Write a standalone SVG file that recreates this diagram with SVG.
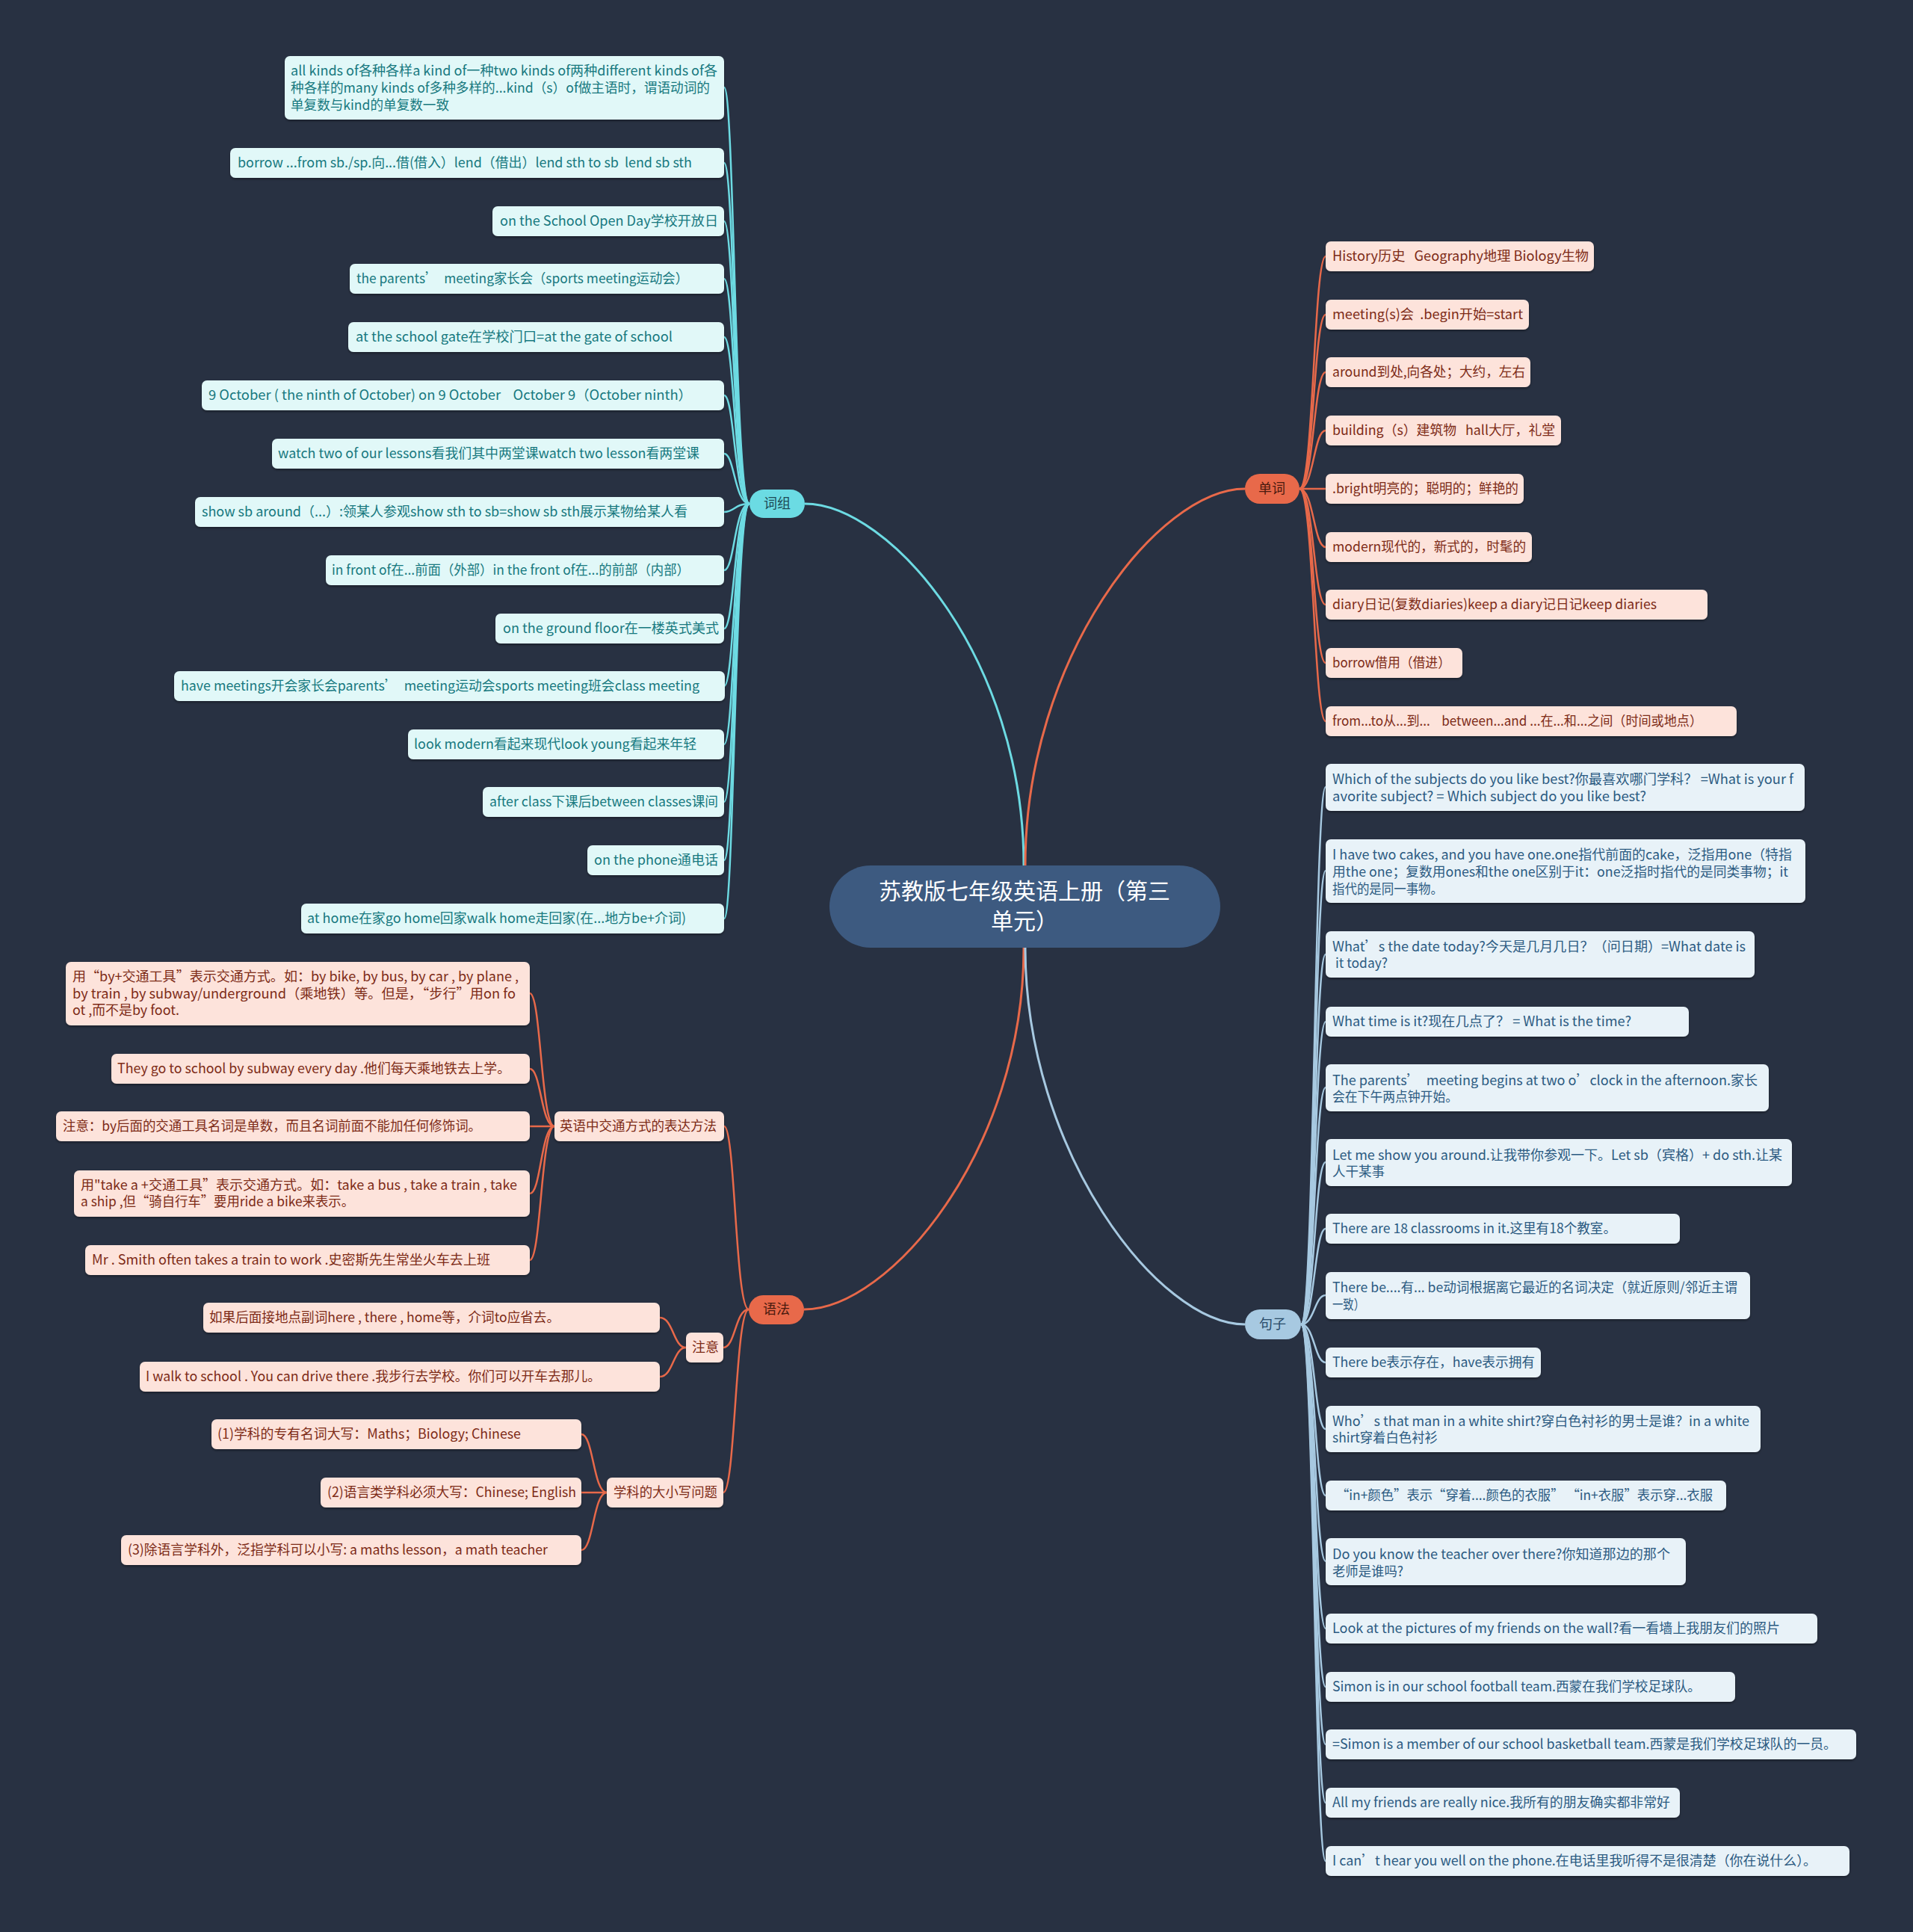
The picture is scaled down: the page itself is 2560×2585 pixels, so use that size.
<svg xmlns="http://www.w3.org/2000/svg" width="2560" height="2585" viewBox="0 0 2560 2585">
<defs>
<filter id="sh" x="-5%" y="-20%" width="110%" height="150%"><feDropShadow dx="0" dy="2" stdDeviation="1.5" flood-color="#000" flood-opacity="0.35"/></filter>
<style>
text{font-family:"Noto Sans CJK SC","Microsoft YaHei","Liberation Sans",sans-serif;font-size:18px;white-space:pre;}
.c rect{fill:#e1f8f8;filter:url(#sh);}
.c text{fill:#17797f;}
.o rect{fill:#fde3db;filter:url(#sh);}
.o text{fill:#7d2b17;}
.b rect{fill:#e8f2f8;filter:url(#sh);}
.b text{fill:#2c5b82;}
.lc{fill:none;stroke:#6ddbe3;stroke-width:2.5;}
.lo{fill:none;stroke:#e8694a;stroke-width:2.5;}
.lb{fill:none;stroke:#a7c9e1;stroke-width:2.5;}
.m{stroke-width:3;}
</style>
</defs>
<rect width="2560" height="2585" fill="#283142"/>
<g id="connectors">
<path class="lc m" d="M1370 1158 C1370 880 1190 674 1077 674"/>
<path class="lo m" d="M1372 1158 C1372 880 1550 654 1666 654"/>
<path class="lo m" d="M1370 1268 C1370 1540 1190 1752 1076 1752"/>
<path class="lb m" d="M1372 1268 C1372 1540 1550 1772 1666 1772"/>
<path class="lc" d="M1003 674 C983 674 983 117 969 117"/>
<path class="lc" d="M1003 674 C983 674 983 218 969 218"/>
<path class="lc" d="M1003 674 C983 674 983 296 969 296"/>
<path class="lc" d="M1003 674 C983 674 983 373 969 373"/>
<path class="lc" d="M1003 674 C983 674 983 451 969 451"/>
<path class="lc" d="M1003 674 C983 674 983 529 969 529"/>
<path class="lc" d="M1003 674 C983 674 983 607 969 607"/>
<path class="lc" d="M1003 674 C983 674 983 685 969 685"/>
<path class="lc" d="M1003 674 C983 674 983 763 969 763"/>
<path class="lc" d="M1003 674 C983 674 983 841 969 841"/>
<path class="lc" d="M1003 674 C983 674 983 918 969 918"/>
<path class="lc" d="M1003 674 C983 674 983 996 969 996"/>
<path class="lc" d="M1003 674 C983 674 983 1073 969 1073"/>
<path class="lc" d="M1003 674 C983 674 983 1151 969 1151"/>
<path class="lc" d="M1003 674 C983 674 983 1229 969 1229"/>
<path class="lo" d="M1739 654 C1758 654 1758 343 1774 343"/>
<path class="lo" d="M1739 654 C1758 654 1758 421 1774 421"/>
<path class="lo" d="M1739 654 C1758 654 1758 498 1774 498"/>
<path class="lo" d="M1739 654 C1758 654 1758 576 1774 576"/>
<path class="lo" d="M1739 654 L1774 654"/>
<path class="lo" d="M1739 654 C1758 654 1758 732 1774 732"/>
<path class="lo" d="M1739 654 C1758 654 1758 809 1774 809"/>
<path class="lo" d="M1739 654 C1758 654 1758 887 1774 887"/>
<path class="lo" d="M1739 654 C1758 654 1758 965 1774 965"/>
<path class="lb" d="M1741 1772 C1759 1772 1759 1053 1774 1053"/>
<path class="lb" d="M1741 1772 C1759 1772 1759 1165 1774 1165"/>
<path class="lb" d="M1741 1772 C1759 1772 1759 1277 1774 1277"/>
<path class="lb" d="M1741 1772 C1759 1772 1759 1367 1774 1367"/>
<path class="lb" d="M1741 1772 C1759 1772 1759 1455 1774 1455"/>
<path class="lb" d="M1741 1772 C1759 1772 1759 1555 1774 1555"/>
<path class="lb" d="M1741 1772 C1759 1772 1759 1644 1774 1644"/>
<path class="lb" d="M1741 1772 C1759 1772 1759 1733 1774 1733"/>
<path class="lb" d="M1741 1772 C1759 1772 1759 1823 1774 1823"/>
<path class="lb" d="M1741 1772 C1759 1772 1759 1912 1774 1912"/>
<path class="lb" d="M1741 1772 C1759 1772 1759 2001 1774 2001"/>
<path class="lb" d="M1741 1772 C1759 1772 1759 2089 1774 2089"/>
<path class="lb" d="M1741 1772 C1759 1772 1759 2179 1774 2179"/>
<path class="lb" d="M1741 1772 C1759 1772 1759 2257 1774 2257"/>
<path class="lb" d="M1741 1772 C1759 1772 1759 2334 1774 2334"/>
<path class="lb" d="M1741 1772 C1759 1772 1759 2412 1774 2412"/>
<path class="lb" d="M1741 1772 C1759 1772 1759 2490 1774 2490"/>
<path class="lo" d="M1002 1752 C984 1752 984 1507 969 1507"/>
<path class="lo" d="M1002 1752 C984 1752 984 1803 968 1803"/>
<path class="lo" d="M1002 1752 C984 1752 984 1997 968 1997"/>
<path class="lo" d="M742 1507 C724 1507 724 1329 709 1329"/>
<path class="lo" d="M742 1507 C724 1507 724 1430 709 1430"/>
<path class="lo" d="M742 1507 L709 1507"/>
<path class="lo" d="M742 1507 C724 1507 724 1597 709 1597"/>
<path class="lo" d="M742 1507 C724 1507 724 1686 709 1686"/>
<path class="lo" d="M918 1803 C901 1803 901 1763 883 1763"/>
<path class="lo" d="M918 1803 C901 1803 901 1842 883 1842"/>
<path class="lo" d="M812 1997 C794 1997 794 1919 778 1919"/>
<path class="lo" d="M812 1997 L778 1997"/>
<path class="lo" d="M812 1997 C794 1997 794 2074 778 2074"/>
</g>

<g id="root"><rect x="1110" y="1158" width="523" height="110" rx="55" fill="#3d5a80"/>
<text x="1371" y="1203" text-anchor="middle" style="font-size:30px;fill:#ffffff">苏教版七年级英语上册（第三</text>
<text x="1371" y="1243" text-anchor="middle" style="font-size:30px;fill:#ffffff">单元）</text></g>

<g id="b-cizu"><rect x="1003" y="655" width="74" height="38" rx="19" fill="#6bdbe3"/><text x="1040" y="680" text-anchor="middle" fill="#1d4a55">词组</text></g>
<g id="b-danci"><rect x="1666" y="634" width="73" height="40" rx="20" fill="#e8694a"/><text x="1702" y="660" text-anchor="middle" fill="#4a1a0e">单词</text></g>
<g id="b-yufa"><rect x="1002" y="1733" width="74" height="39" rx="19.5" fill="#e8694a"/><text x="1039" y="1758" text-anchor="middle" fill="#4a1a0e">语法</text></g>
<g id="b-juzi"><rect x="1666" y="1752" width="75" height="40" rx="20" fill="#a7c9e1"/><text x="1703" y="1778" text-anchor="middle" fill="#274a68">句子</text></g>

<g id="c1" class="c"><rect x="381" y="75" width="588" height="85" rx="7"/>
<text x="389" y="101" textLength="571" lengthAdjust="spacingAndGlyphs">all kinds of各种各样a kind of一种two kinds of两种different kinds of各</text>
<text x="389" y="124" textLength="561" lengthAdjust="spacingAndGlyphs">种各样的many kinds of多种多样的...kind（s）of做主语时，谓语动词的</text>
<text x="389" y="147" textLength="212" lengthAdjust="spacingAndGlyphs">单复数与kind的单复数一致</text></g>
<g id="c2" class="c"><rect x="308" y="198" width="661" height="40" rx="7"/><text x="318" y="224" textLength="608" lengthAdjust="spacingAndGlyphs">borrow ...from sb./sp.向...借(借入）lend（借出）lend sth to sb  lend sb sth</text></g>
<g id="c3" class="c"><rect x="659" y="276" width="310" height="40" rx="7"/><text x="669" y="302" textLength="292" lengthAdjust="spacingAndGlyphs">on the School Open Day学校开放日</text></g>
<g id="c4" class="c"><rect x="468" y="353" width="501" height="40" rx="7"/><text x="477" y="379" textLength="444" lengthAdjust="spacingAndGlyphs">the parents’  meeting家长会（sports meeting运动会）</text></g>
<g id="c5" class="c"><rect x="466" y="431" width="503" height="40" rx="7"/><text x="476" y="457" textLength="424" lengthAdjust="spacingAndGlyphs">at the school gate在学校门口=at the gate of school</text></g>
<g id="c6" class="c"><rect x="270" y="509" width="699" height="40" rx="7"/><text x="279" y="535" textLength="647" lengthAdjust="spacingAndGlyphs">9 October ( the ninth of October) on 9 October    October 9（October ninth）</text></g>
<g id="c7" class="c"><rect x="364" y="587" width="605" height="40" rx="7"/><text x="372" y="613" textLength="564" lengthAdjust="spacingAndGlyphs">watch two of our lessons看我们其中两堂课watch two lesson看两堂课</text></g>
<g id="c8" class="c"><rect x="261" y="665" width="708" height="40" rx="7"/><text x="270" y="691" textLength="650" lengthAdjust="spacingAndGlyphs">show sb around（...）:领某人参观show sth to sb=show sb sth展示某物给某人看</text></g>
<g id="c9" class="c"><rect x="436" y="743" width="533" height="40" rx="7"/><text x="444" y="769" textLength="479" lengthAdjust="spacingAndGlyphs">in front of在...前面（外部）in the front of在...的前部（内部）</text></g>
<g id="c10" class="c"><rect x="663" y="821" width="306" height="40" rx="7"/><text x="673" y="847" textLength="289" lengthAdjust="spacingAndGlyphs">on the ground floor在一楼英式美式</text></g>
<g id="c11" class="c"><rect x="233" y="898" width="737" height="40" rx="7"/><text x="242" y="924" textLength="694" lengthAdjust="spacingAndGlyphs">have meetings开会家长会parents’  meeting运动会sports meeting班会class meeting</text></g>
<g id="c12" class="c"><rect x="546" y="976" width="423" height="40" rx="7"/><text x="554" y="1002" textLength="378" lengthAdjust="spacingAndGlyphs">look modern看起来现代look young看起来年轻</text></g>
<g id="c13" class="c"><rect x="646" y="1053" width="323" height="40" rx="7"/><text x="655" y="1079" textLength="306" lengthAdjust="spacingAndGlyphs">after class下课后between classes课间</text></g>
<g id="c14" class="c"><rect x="786" y="1131" width="183" height="40" rx="7"/><text x="795" y="1157" textLength="166" lengthAdjust="spacingAndGlyphs">on the phone通电话</text></g>
<g id="c15" class="c"><rect x="403" y="1209" width="566" height="40" rx="7"/><text x="411" y="1235" textLength="507" lengthAdjust="spacingAndGlyphs">at home在家go home回家walk home走回家(在...地方be+介词)</text></g>

<g id="o1" class="o"><rect x="1774" y="323" width="359" height="40" rx="7"/><text x="1783" y="349" textLength="343" lengthAdjust="spacingAndGlyphs">History历史   Geography地理 Biology生物</text></g>
<g id="o2" class="o"><rect x="1774" y="401" width="272" height="40" rx="7"/><text x="1783" y="427" textLength="255" lengthAdjust="spacingAndGlyphs">meeting(s)会  .begin开始=start</text></g>
<g id="o3" class="o"><rect x="1774" y="478" width="274" height="40" rx="7"/><text x="1783" y="504" textLength="258" lengthAdjust="spacingAndGlyphs">around到处,向各处；大约，左右</text></g>
<g id="o4" class="o"><rect x="1774" y="556" width="315" height="40" rx="7"/><text x="1783" y="582" textLength="298" lengthAdjust="spacingAndGlyphs">building（s）建筑物   hall大厅，礼堂</text></g>
<g id="o5" class="o"><rect x="1774" y="634" width="265" height="40" rx="7"/><text x="1783" y="660" textLength="249" lengthAdjust="spacingAndGlyphs">.bright明亮的；聪明的；鲜艳的</text></g>
<g id="o6" class="o"><rect x="1774" y="712" width="276" height="40" rx="7"/><text x="1783" y="738" textLength="259" lengthAdjust="spacingAndGlyphs">modern现代的，新式的，时髦的</text></g>
<g id="o7" class="o"><rect x="1774" y="789" width="511" height="40" rx="7"/><text x="1783" y="815" textLength="434" lengthAdjust="spacingAndGlyphs">diary日记(复数diaries)keep a diary记日记keep diaries</text></g>
<g id="o8" class="o"><rect x="1774" y="867" width="183" height="40" rx="7"/><text x="1783" y="893" textLength="158" lengthAdjust="spacingAndGlyphs">borrow借用（借进）</text></g>
<g id="o9" class="o"><rect x="1774" y="945" width="550" height="40" rx="7"/><text x="1783" y="971" textLength="495" lengthAdjust="spacingAndGlyphs">from...to从...到...    between...and ...在...和...之间（时间或地点）</text></g>

<g id="s1" class="b"><rect x="1774" y="1022" width="641" height="63" rx="7"/>
<text x="1783" y="1049" textLength="617" lengthAdjust="spacingAndGlyphs">Which of the subjects do you like best?你最喜欢哪门学科？ =What is your f</text>
<text x="1783" y="1072" textLength="420" lengthAdjust="spacingAndGlyphs">avorite subject? = Which subject do you like best?</text></g>
<g id="s2" class="b"><rect x="1774" y="1123" width="642" height="85" rx="7"/>
<text x="1783" y="1150" textLength="615" lengthAdjust="spacingAndGlyphs">I have two cakes, and you have one.one指代前面的cake，泛指用one（特指</text>
<text x="1783" y="1173" textLength="610" lengthAdjust="spacingAndGlyphs">用the one；复数用ones和the one区别于it：one泛指时指代的是同类事物；it</text>
<text x="1783" y="1196" textLength="148" lengthAdjust="spacingAndGlyphs">指代的是同一事物。</text></g>
<g id="s3" class="b"><rect x="1774" y="1246" width="574" height="62" rx="7"/>
<text x="1783" y="1273" textLength="553" lengthAdjust="spacingAndGlyphs">What’s the date today?今天是几月几日？（问日期）=What date is</text>
<text x="1787" y="1295" textLength="70" lengthAdjust="spacingAndGlyphs">it today?</text></g>
<g id="s4" class="b"><rect x="1774" y="1347" width="486" height="40" rx="7"/><text x="1783" y="1373" textLength="400" lengthAdjust="spacingAndGlyphs">What time is it?现在几点了？ = What is the time?</text></g>
<g id="s5" class="b"><rect x="1774" y="1424" width="593" height="63" rx="7"/>
<text x="1783" y="1452" textLength="569" lengthAdjust="spacingAndGlyphs">The parents’  meeting begins at two o’clock in the afternoon.家长</text>
<text x="1783" y="1474" textLength="168" lengthAdjust="spacingAndGlyphs">会在下午两点钟开始。</text></g>
<g id="s6" class="b"><rect x="1774" y="1524" width="624" height="63" rx="7"/>
<text x="1783" y="1552" textLength="602" lengthAdjust="spacingAndGlyphs">Let me show you around.让我带你参观一下。Let sb（宾格）+ do sth.让某</text>
<text x="1783" y="1574" textLength="70" lengthAdjust="spacingAndGlyphs">人干某事</text></g>
<g id="s7" class="b"><rect x="1774" y="1624" width="474" height="40" rx="7"/><text x="1783" y="1650" textLength="380" lengthAdjust="spacingAndGlyphs">There are 18 classrooms in it.这里有18个教室。</text></g>
<g id="s8" class="b"><rect x="1774" y="1702" width="568" height="63" rx="7"/>
<text x="1783" y="1729" textLength="542" lengthAdjust="spacingAndGlyphs">There be....有... be动词根据离它最近的名词决定（就近原则/邻近主谓</text>
<text x="1783" y="1752" textLength="43" lengthAdjust="spacingAndGlyphs">一致）</text></g>
<g id="s9" class="b"><rect x="1774" y="1803" width="288" height="40" rx="7"/><text x="1783" y="1829" textLength="271" lengthAdjust="spacingAndGlyphs">There be表示存在，have表示拥有</text></g>
<g id="s10" class="b"><rect x="1774" y="1881" width="582" height="62" rx="7"/>
<text x="1783" y="1908" textLength="558" lengthAdjust="spacingAndGlyphs">Who’s that man in a white shirt?穿白色衬衫的男士是谁？in a white</text>
<text x="1783" y="1930" textLength="141" lengthAdjust="spacingAndGlyphs">shirt穿着白色衬衫</text></g>
<g id="s11" class="b"><rect x="1774" y="1981" width="536" height="40" rx="7"/><text x="1788" y="2007" textLength="504" lengthAdjust="spacingAndGlyphs">“in+颜色”表示“穿着....颜色的衣服” “in+衣服”表示穿...衣服</text></g>
<g id="s12" class="b"><rect x="1774" y="2058" width="482" height="63" rx="7"/>
<text x="1783" y="2086" textLength="452" lengthAdjust="spacingAndGlyphs">Do you know the teacher over there?你知道那边的那个</text>
<text x="1783" y="2109" textLength="95" lengthAdjust="spacingAndGlyphs">老师是谁吗?</text></g>
<g id="s13" class="b"><rect x="1774" y="2159" width="658" height="40" rx="7"/><text x="1783" y="2185" textLength="599" lengthAdjust="spacingAndGlyphs">Look at the pictures of my friends on the wall?看一看墙上我朋友们的照片</text></g>
<g id="s14" class="b"><rect x="1774" y="2237" width="548" height="40" rx="7"/><text x="1783" y="2263" textLength="493" lengthAdjust="spacingAndGlyphs">Simon is in our school football team.西蒙在我们学校足球队。</text></g>
<g id="s15" class="b"><rect x="1774" y="2314" width="710" height="40" rx="7"/><text x="1783" y="2340" textLength="675" lengthAdjust="spacingAndGlyphs">=Simon is a member of our school basketball team.西蒙是我们学校足球队的一员。</text></g>
<g id="s16" class="b"><rect x="1774" y="2392" width="474" height="40" rx="7"/><text x="1783" y="2418" textLength="452" lengthAdjust="spacingAndGlyphs">All my friends are really nice.我所有的朋友确实都非常好</text></g>
<g id="s17" class="b"><rect x="1774" y="2470" width="701" height="40" rx="7"/><text x="1783" y="2496" textLength="648" lengthAdjust="spacingAndGlyphs">I can’t hear you well on the phone.在电话里我听得不是很清楚（你在说什么）。</text></g>

<g id="g-traffic" class="o"><rect x="742" y="1487" width="227" height="40" rx="7"/><text x="749" y="1513" textLength="210" lengthAdjust="spacingAndGlyphs">英语中交通方式的表达方法</text></g>
<g id="g-note" class="o"><rect x="918" y="1783" width="50" height="40" rx="7"/><text x="926" y="1809" textLength="36" lengthAdjust="spacingAndGlyphs">注意</text></g>
<g id="g-case" class="o"><rect x="812" y="1977" width="156" height="40" rx="7"/><text x="821" y="2003" textLength="139" lengthAdjust="spacingAndGlyphs">学科的大小写问题</text></g>

<g id="ga" class="o"><rect x="88" y="1287" width="621" height="85" rx="7"/>
<text x="97" y="1313" textLength="597" lengthAdjust="spacingAndGlyphs">用“by+交通工具”表示交通方式。如：by bike, by bus, by car , by plane ,</text>
<text x="97" y="1336" textLength="593" lengthAdjust="spacingAndGlyphs">by train , by subway/underground（乘地铁）等。但是，“步行”用on fo</text>
<text x="97" y="1358" textLength="143" lengthAdjust="spacingAndGlyphs">ot ,而不是by foot.</text></g>
<g id="gb" class="o"><rect x="149" y="1410" width="560" height="40" rx="7"/><text x="157" y="1436" textLength="526" lengthAdjust="spacingAndGlyphs">They go to school by subway every day .他们每天乘地铁去上学。</text></g>
<g id="gc" class="o"><rect x="75" y="1487" width="634" height="40" rx="7"/><text x="84" y="1513" textLength="560" lengthAdjust="spacingAndGlyphs">注意：by后面的交通工具名词是单数，而且名词前面不能加任何修饰词。</text></g>
<g id="gd" class="o"><rect x="99" y="1566" width="610" height="62" rx="7"/>
<text x="108" y="1592" textLength="584" lengthAdjust="spacingAndGlyphs">用"take a +交通工具”表示交通方式。如：take a bus , take a train , take</text>
<text x="108" y="1614" textLength="366" lengthAdjust="spacingAndGlyphs">a ship ,但“骑自行车”要用ride a bike来表示。</text></g>
<g id="ge" class="o"><rect x="114" y="1666" width="595" height="40" rx="7"/><text x="123" y="1692" textLength="533" lengthAdjust="spacingAndGlyphs">Mr . Smith often takes a train to work .史密斯先生常坐火车去上班</text></g>
<g id="gf" class="o"><rect x="272" y="1743" width="611" height="40" rx="7"/><text x="280" y="1769" textLength="469" lengthAdjust="spacingAndGlyphs">如果后面接地点副词here , there , home等，介词to应省去。</text></g>
<g id="gg" class="o"><rect x="187" y="1822" width="696" height="40" rx="7"/><text x="195" y="1848" textLength="609" lengthAdjust="spacingAndGlyphs">I walk to school . You can drive there .我步行去学校。你们可以开车去那儿。</text></g>
<g id="gh" class="o"><rect x="283" y="1899" width="495" height="40" rx="7"/><text x="291" y="1925" textLength="406" lengthAdjust="spacingAndGlyphs">(1)学科的专有名词大写：Maths；Biology; Chinese</text></g>
<g id="gi" class="o"><rect x="429" y="1977" width="349" height="40" rx="7"/><text x="438" y="2003" textLength="333" lengthAdjust="spacingAndGlyphs">(2)语言类学科必须大写：Chinese; English</text></g>
<g id="gj" class="o"><rect x="162" y="2054" width="616" height="40" rx="7"/><text x="171" y="2080" textLength="562" lengthAdjust="spacingAndGlyphs">(3)除语言学科外，泛指学科可以小写: a maths lesson，a math teacher</text></g>
</svg>
